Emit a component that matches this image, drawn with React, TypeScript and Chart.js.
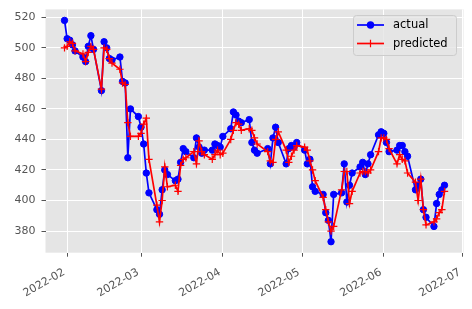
import React, { useEffect, useRef } from "react";
import { Chart, registerables } from "chart.js";

Chart.register(...registerables);

const dates = [
  "2022-01-31",
  "2022-02-01", "2022-02-02", "2022-02-03", "2022-02-04",
  "2022-02-07", "2022-02-08", "2022-02-09", "2022-02-10", "2022-02-11",
  "2022-02-14", "2022-02-15", "2022-02-16", "2022-02-17", "2022-02-18",
  "2022-02-21", "2022-02-22", "2022-02-23", "2022-02-24", "2022-02-25",
  "2022-02-28",
  "2022-03-01", "2022-03-02", "2022-03-03", "2022-03-04",
  "2022-03-07", "2022-03-08", "2022-03-09", "2022-03-10", "2022-03-11",
  "2022-03-14", "2022-03-15", "2022-03-16", "2022-03-17", "2022-03-18",
  "2022-03-21", "2022-03-22", "2022-03-23", "2022-03-24", "2022-03-25",
  "2022-03-28", "2022-03-29", "2022-03-30", "2022-03-31",
  "2022-04-01",
  "2022-04-04", "2022-04-05", "2022-04-06", "2022-04-07", "2022-04-08",
  "2022-04-11", "2022-04-12", "2022-04-13", "2022-04-14",
  "2022-04-18", "2022-04-19", "2022-04-20", "2022-04-21", "2022-04-22",
  "2022-04-25", "2022-04-26", "2022-04-27", "2022-04-28", "2022-04-29",
  "2022-05-02", "2022-05-03", "2022-05-04", "2022-05-05", "2022-05-06",
  "2022-05-09", "2022-05-10", "2022-05-11", "2022-05-12", "2022-05-13",
  "2022-05-16", "2022-05-17", "2022-05-18", "2022-05-19", "2022-05-20",
  "2022-05-23", "2022-05-24", "2022-05-25", "2022-05-26", "2022-05-27",
  "2022-05-30", "2022-05-31",
  "2022-06-01", "2022-06-02", "2022-06-03",
  "2022-06-06", "2022-06-07", "2022-06-08", "2022-06-09", "2022-06-10",
  "2022-06-13", "2022-06-14", "2022-06-15", "2022-06-16", "2022-06-17",
  "2022-06-20", "2022-06-21", "2022-06-22", "2022-06-23", "2022-06-24",
];

const actual = [
  518,
  506, 505, 502, 498, 494, 491, 501, 508, 499, 472, 504, 500, 493, 492, 494, 478, 477, 428, 460, 455,
  448, 437, 418, 405, 394, 391, 407, 420, 417, 413, 414, 425, 434, 432, 428, 441, 435, 431, 433, 433, 437, 436, 435,
  442, 447, 458, 456, 452, 451, 453, 438, 433, 431, 434, 424, 441, 448, 438, 424, 434, 436, 435, 438,
  433, 424, 427, 409, 406, 404, 392, 387, 373, 404, 405, 424, 399, 410, 418, 422, 425, 417, 424, 430, 443, 445,
  444, 438, 432, 433, 436, 436, 432, 429, 407, 410, 414, 394, 389, 383, 398, 404, 407, 410,
];

const predicted = [
  500,
  501, 504, 503, 498, 496, 491, 497, 501, 499, 473, 500, 499, 493, 490, 486, 477, 476, 451, 442, 442,
  444, 450, 454, 427, 397, 386, 400, 422, 409, 410, 406, 423, 427, 428, 432, 424, 439, 432, 430, 427, 430, 433, 430,
  431, 440, 446, 451, 450, 446, 447, 446, 441, 437, 432, 426, 425, 440, 445, 433, 425, 429, 433, 436,
  435, 433, 426, 420, 413, 402, 394, 386, 380, 383, 407, 419, 419, 398, 406, 418, 419, 419, 418, 420, 432, 441,
  441, 440, 434, 424, 430, 427, 426, 418, 412, 400, 414, 394, 384, 386, 388, 392, 394, 406,
];

const xTickDates = ["2022-02-01", "2022-03-01", "2022-04-01", "2022-05-01", "2022-06-01", "2022-07-01"];
const xTickLabels = ["2022-02", "2022-03", "2022-04", "2022-05", "2022-06", "2022-07"];
const yTicks = [380, 400, 420, 440, 460, 480, 500, 520];

const seriesLabels = ["actual", "predicted"];

function dayNum(s: string): number {
  const [y, m, d] = s.split("-").map(Number);
  return (Date.UTC(y, m - 1, d) - Date.UTC(2022, 0, 1)) / 86400000;
}

const FONT = "'DejaVu Sans', sans-serif";

const bgPlugin = {
  id: "bgPlugin",
  beforeDraw(chart: any) {
    const { ctx, chartArea } = chart;
    ctx.save();
    ctx.fillStyle = "#ffffff";
    ctx.fillRect(0, 0, chart.width, chart.height);
    ctx.fillStyle = "#E5E5E5";
    ctx.fillRect(chartArea.left, chartArea.top, chartArea.right - chartArea.left, chartArea.bottom - chartArea.top);
    ctx.restore();
  },
};

const legendPlugin = {
  id: "mplLegend",
  afterDraw(chart: any) {
    const { ctx } = chart;
    const ds = chart.data.datasets;
    const bx = 353.5, by = 15.5, bw = 103, bh = 40, r = 3;
    ctx.save();
    ctx.beginPath();
    ctx.moveTo(bx + r, by);
    ctx.lineTo(bx + bw - r, by);
    ctx.arcTo(bx + bw, by, bx + bw, by + r, r);
    ctx.lineTo(bx + bw, by + bh - r);
    ctx.arcTo(bx + bw, by + bh, bx + bw - r, by + bh, r);
    ctx.lineTo(bx + r, by + bh);
    ctx.arcTo(bx, by + bh, bx, by + bh - r, r);
    ctx.lineTo(bx, by + r);
    ctx.arcTo(bx, by, bx + r, by, r);
    ctx.closePath();
    ctx.fillStyle = "rgba(229,229,229,0.8)";
    ctx.fill();
    ctx.strokeStyle = "#cccccc";
    ctx.lineWidth = 1;
    ctx.stroke();

    const rows = [25, 43.5];
    ds.forEach((d: any, i: number) => {
      const y = rows[i];
      ctx.strokeStyle = d.borderColor;
      ctx.lineWidth = 1.7;
      ctx.beginPath();
      ctx.moveTo(357, y);
      ctx.lineTo(384, y);
      ctx.stroke();
      if (d.pointStyle === "circle") {
        ctx.fillStyle = d.borderColor;
        ctx.beginPath();
        ctx.arc(370.5, y, 3.7, 0, Math.PI * 2);
        ctx.fill();
      } else {
        ctx.lineWidth = 1.2;
        ctx.beginPath();
        ctx.moveTo(370.5 - 3.7, y);
        ctx.lineTo(370.5 + 3.7, y);
        ctx.moveTo(370.5, y - 3.7);
        ctx.lineTo(370.5, y + 3.7);
        ctx.stroke();
      }
      ctx.fillStyle = "#000000";
      ctx.font = `11.5px ${FONT}`;
      ctx.textAlign = "left";
      ctx.textBaseline = "middle";
      ctx.fillText(d.label, 393, y + 0.5);
    });
    ctx.restore();
  },
};

export default function App() {
  const canvasRef = useRef<HTMLCanvasElement | null>(null);

  useEffect(() => {
    const canvas = canvasRef.current;
    if (!canvas) return;
    const xs = dates.map(dayNum);
    const tickVals = xTickDates.map(dayNum);

    const chart = new Chart(canvas, {
      type: "line",
      data: {
        datasets: [
          {
            label: seriesLabels[0],
            data: xs.map((x, i) => ({ x, y: actual[i] })),
            borderColor: "#0000ff",
            backgroundColor: "#0000ff",
            borderWidth: 1.7,
            pointStyle: "circle",
            pointRadius: 3.2,
            pointBorderWidth: 1,
            pointBackgroundColor: "#0000ff",
            pointBorderColor: "#0000ff",
            tension: 0,
            order: 1,
          },
          {
            label: seriesLabels[1],
            data: xs.map((x, i) => ({ x, y: predicted[i] })),
            borderColor: "#ff0000",
            backgroundColor: "#ff0000",
            borderWidth: 1.7,
            pointStyle: "cross",
            pointRadius: 3.7,
            pointBorderWidth: 1.2,
            pointBorderColor: "#ff0000",
            tension: 0,
            order: 0,
          },
        ],
      },
      options: {
        animation: false,
        responsive: false,
        maintainAspectRatio: false,
        events: [],
        layout: { padding: { top: 9.4, right: 8.5, left: 0, bottom: 0 } },
        plugins: {
          legend: { display: false },
          tooltip: { enabled: false },
        },
        scales: {
          x: {
            type: "linear",
            min: 22.8,
            max: 181.2,
            afterBuildTicks: (s: any) => {
              s.ticks = tickVals.map((v) => ({ value: v }));
            },
            afterFit: (s: any) => {
              s.height = 56.3;
              s.paddingLeft = 0;
              s.paddingRight = 0;
            },
            ticks: {
              autoSkip: false,
              minRotation: 30,
              maxRotation: 30,
              color: "#555555",
              padding: 9,
              labelOffset: -3,
              font: { family: FONT, size: 11 },
              callback: (v: any) => {
                const idx = tickVals.indexOf(Number(v));
                return idx >= 0 ? xTickLabels[idx] : "";
              },
            },
            grid: { color: "#ffffff", lineWidth: 1, tickColor: "#555555", tickLength: 4, drawTicks: true },
            border: { display: false },
          },
          y: {
            type: "linear",
            min: 365.8,
            max: 525.2,
            afterBuildTicks: (s: any) => {
              s.ticks = yTicks.map((v) => ({ value: v }));
            },
            afterFit: (s: any) => {
              s.width = 45.5;
              s.paddingTop = 0;
              s.paddingBottom = 0;
            },
            ticks: {
              color: "#555555",
              padding: 6,
              font: { family: FONT, size: 11 },
              callback: (v: any) => String(v),
            },
            grid: { color: "#ffffff", lineWidth: 1, tickColor: "#555555", tickLength: 4, drawTicks: true },
            border: { display: false },
          },
        },
      },
      plugins: [bgPlugin, legendPlugin],
    } as any);

    return () => {
      chart.destroy();
    };
  }, []);

  return (
    <div style={{ position: "absolute", left: 0, top: 0, width: 472, height: 309, background: "#fff" }}>
      <canvas ref={canvasRef} width={472} height={309} style={{ width: 472, height: 309, display: "block" }} />
    </div>
  );
}
